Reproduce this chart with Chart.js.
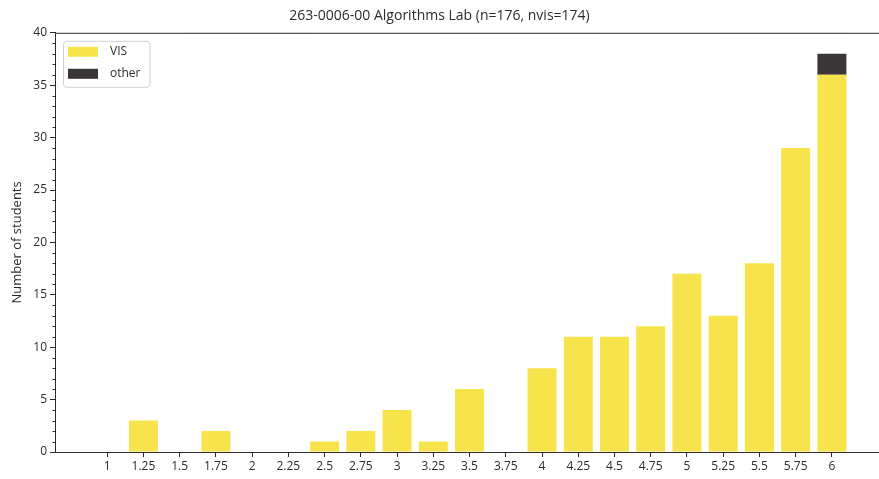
<!DOCTYPE html>
<html>
<head>
<meta charset="utf-8">
<script src="https://cdn.jsdelivr.net/npm/chart.js@4"></script>
<style>
  html, body { margin: 0; padding: 0; background: #fff; overflow: hidden; }
  #wrap { position: relative; width: 879px; height: 479px; }
</style>
</head>
<body>
<div id="wrap"><canvas id="grades"></canvas></div>
<script>
// grade categories (x positions) and counts
const grades = [1, 1.25, 1.5, 1.75, 2, 2.25, 2.5, 2.75, 3, 3.25, 3.5, 3.75, 4, 4.25, 4.5, 4.75, 5, 5.25, 5.5, 5.75, 6];
const visCounts = [0, 3, 0, 2, 0, 0, 1, 2, 4, 1, 6, 0, 8, 11, 11, 12, 17, 13, 18, 29, 36];
const otherCounts = [0, 0, 0, 0, 0, 0, 0, 0, 0, 0, 0, 0, 0, 0, 0, 0, 0, 0, 0, 0, 2];
const yTicks = [0, 5, 10, 15, 20, 25, 30, 35, 40];

const FONT = 'Open Sans, DejaVu Sans, sans-serif';
const INK = '#2e2a2a';

// short minor ticks on the y axis + top spine (matplotlib look)
const frame = {
  id: 'frame',
  afterDraw(chart) {
    const { ctx, chartArea, scales } = chart;
    const y = scales.y;
    ctx.save();
    ctx.strokeStyle = INK;
    ctx.lineWidth = 1;
    ctx.beginPath();
    for (let v = y.min; v <= y.max; v++) {
      if (v % 5 === 0) continue;
      const py = Math.round(y.getPixelForValue(v)) + 0.5;
      ctx.moveTo(chartArea.left - 2.5, py);
      ctx.lineTo(chartArea.left, py);
    }
    ctx.moveTo(chartArea.left, chartArea.top + 0.5);
    ctx.lineTo(chartArea.right, chartArea.top + 0.5);
    ctx.stroke();
    ctx.restore();
  }
};

// matplotlib-style legend box in the upper-left of the plot
const boxLegend = {
  id: 'boxLegend',
  afterDraw(chart) {
    const { ctx, chartArea } = chart;
    const sets = chart.data.datasets;
    ctx.save();
    ctx.font = '12px ' + FONT;
    const textW = Math.max(...sets.map(d => ctx.measureText(d.label).width));
    const x0 = chartArea.left + 8, y0 = chartArea.top + 8;
    const w = 42 + textW + 14, h = 46;
    ctx.fillStyle = 'rgba(255,255,255,0.8)';
    ctx.strokeStyle = '#d0d0d0';
    ctx.lineWidth = 1;
    ctx.beginPath();
    ctx.roundRect(x0 + 0.5, y0 + 0.5, w, h, 3);
    ctx.fill();
    ctx.stroke();
    sets.forEach((d, i) => {
      const cy = y0 + 11 + i * 22;
      ctx.fillStyle = d.backgroundColor;
      ctx.fillRect(x0 + 5, cy - 5, 30, 10);
      ctx.fillStyle = INK;
      ctx.textBaseline = 'middle';
      ctx.fillText(d.label, x0 + 47, cy);
    });
    ctx.restore();
  }
};

new Chart(document.getElementById('grades'), {
  type: 'bar',
  data: {
    labels: grades,
    datasets: [
      { label: 'VIS', data: visCounts, backgroundColor: '#f7e34c' },
      { label: 'other', data: otherCounts, backgroundColor: '#3a3536' }
    ]
  },
  options: {
    responsive: true,
    maintainAspectRatio: false,
    animation: false,
    layout: { padding: { left: 0, right: 0, top: 0, bottom: 0 } },
    datasets: { bar: { barPercentage: 1, categoryPercentage: 0.8 } },
    plugins: {
      legend: { display: false },
      tooltip: { enabled: false },
      title: {
        display: true,
        text: '263-0006-00 Algorithms Lab (n=176, nvis=174)',
        color: INK,
        font: { family: FONT, size: 14, weight: 'normal' },
        padding: { top: 8, bottom: 8 }
      }
    },
    scales: {
      x: {
        type: 'linear',
        stacked: true,
        min: 0.64,
        max: 6.325,
        offset: false,
        afterBuildTicks: s => { s.ticks = grades.map(v => ({ value: v })); },
        afterFit: s => { s.height = 27; },
        ticks: {
          color: INK,
          font: { family: FONT, size: 12 },
          padding: 2,
          maxRotation: 0,
          autoSkip: false,
          callback: v => String(v)
        },
        grid: { display: true, offset: false, drawOnChartArea: false, tickLength: 5, color: INK },
        border: { display: true, color: INK, width: 1 }
      },
      y: {
        stacked: true,
        min: 0,
        max: 40,
        afterBuildTicks: s => { s.ticks = yTicks.map(v => ({ value: v })); },
        afterFit: s => { s.width = 55; },
        ticks: {
          color: INK,
          font: { family: FONT, size: 12 },
          padding: 3
        },
        title: {
          display: true,
          text: 'Number of students',
          color: INK,
          font: { family: FONT, size: 13 },
          padding: { top: 9, bottom: 0 }
        },
        grid: { display: true, drawOnChartArea: false, tickLength: 5, color: INK },
        border: { display: true, color: INK, width: 1 }
      }
    }
  },
  plugins: [frame, boxLegend]
});
</script>
</body>
</html>
